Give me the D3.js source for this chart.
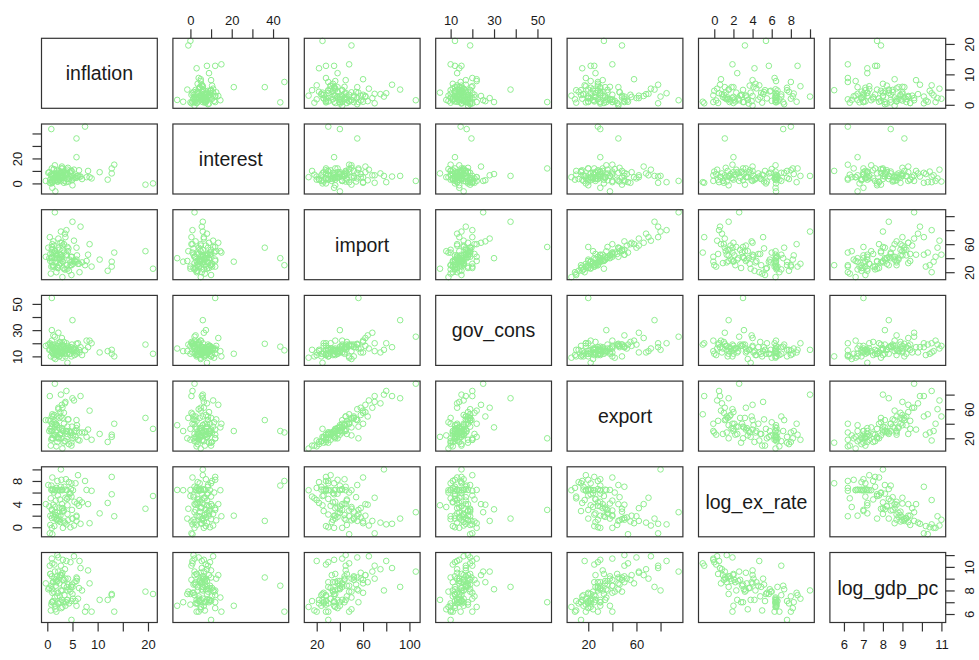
<!DOCTYPE html>
<html>
<head>
<meta charset="utf-8">
<script src="https://cdn.jsdelivr.net/npm/d3@7"></script>
<style>
  body { margin: 0; background: #fff; }
  text { font-family: "Liberation Sans", Arial, sans-serif; fill: #1a1a1a; }
</style>
</head>
<body>
<script>
// variables of the scatterplot matrix, one value per country
const varNames = ["inflation", "interest", "import", "gov_cons", "export", "log_ex_rate", "log_gdp_pc"];

const inflation = [21.0, 19.5, 7.5, 0.8, 5.8, 5.8, 1.5, 5.0, 0.9, 2.7, 1.0, 0.5, 2.0, 4.8, 1.6, 1.0, 3.0, 4.0, -0.3, 12.8,
  13.3, 12.8, 12.0, 8.1, 8.8, 8.4, 10.4,
  3.1, 0.9, 4.6, 2.2, 5.3, 1.4, 3.8, 6.4, 2.7, 0.6, 4.1, 1.9, 3.3, 5.8, 2.4, 1.1, 4.9, 3.0, 0.4, 2.9,
  6.9, 1.7, 3.6, 2.1, 4.4, 1.3, 5.1, 2.6, 0.8, 3.9, 7.8, 2.3, 1.5, 4.7, 3.4, 0.2, 5.6, 2.0, 3.7, 1.0,
  6.1, 2.8, 4.3, 1.6, 3.2, 5.0, 0.7, 2.5, 4.0, 1.2, 3.5, 6.6, 2.2, 1.8, 4.8, 3.0, 0.9, 2.6,
  2.4, 1.7, 3.9, 0.9, 4.6, 2.1, 3.3, 5.4, 1.4, 2.9, 6.3, 0.6, 3.6, 2.0, 4.2, 1.1, 3.0, 5.9, 2.6, 1.8];
const interest = [0.0, -1.0, 45.5, 43.5, 36.0, 21.0, 2.0, 6.0, 12.0, 6.0, 1.0, 0.5, 1.5, 10.0, -6.4, -3.5, 5.0, 8.0, 2.0, 8.0,
  15.0, 12.0, 3.0, 10.0, 4.0, 5.0, 9.0,
  6.5, 2.0, 9.5, 4.0, 11.0, 7.5, 1.0, 5.5, 8.5, 3.0, 12.5, 6.0, 0.5, 4.5, 10.0, 7.0, 2.5, 5.0, 9.0, 13.5,
  3.5, 8.0, 6.5, 1.5, 5.5, 11.5, 4.0, 7.0, 0.0, 9.5, 5.0, 3.0, 14.5, 6.0, 2.0, 8.5, 4.5, 10.5, 7.5, 1.0,
  6.0, 12.0, 3.5, 5.0, 9.0, -1.5, 7.0, 4.0, 11.0, 2.5, 8.0, 5.5, 6.5, 3.0, 10.0, 4.5, 7.5, 2.0,
  5.5, 7.0, 3.5, 6.0, 8.5, 2.5, 9.5, 4.5, 7.5, 5.0, 10.5, 3.0, 6.5, 8.0, 1.5, 4.0, 12.0, 6.0, 9.0, 5.5];
const imports = [25, 50, 30, 40, 55, 35, 105.5, 92, 56, 78, 48, 70, 45, 30, 40, 35, 13, 25, 42, 35,
  48, 28, 22, 45, 28, 60, 38,
  35, 42, 30, 55, 65, 28, 80, 20, 45, 36, 50, 44, 60, 38, 52, 30, 42, 58, 40, 62,
  34, 46, 70, 26, 38, 48, 32, 40, 28, 45, 36, 30, 50, 42, 24, 55, 35, 28, 44, 60,
  32, 38, 22, 50, 26, 36, 18, 46, 56, 64, 75, 85, 68, 20, 16, 52, 40, 33,
  38, 44, 30, 52, 34, 26, 48, 36, 58, 42, 32, 46, 24, 40, 54, 28, 36, 44, 62, 34];
const govCons = [12, 19, 14.6, 17.4, 19.6, 12, 25, 37.6, 54.5, 15, 19, 20, 18, 10, 16, 14, 9, 5.1, 18, 12,
  10, 15, 14, 17, 20, 22, 13,
  14, 22, 12, 19, 16, 11, 20, 13, 17, 15, 18, 12, 21, 14, 10, 16, 19, 13, 15, 24,
  11, 17, 14, 20, 12, 9, 16, 13, 18, 15, 22, 10, 14, 17, 12, 19, 15, 11, 16, 13,
  20, 12, 15, 8, 18, 14, 10, 21, 16, 26, 13, 17, 28, 11, 15, 19, 30, 16,
  14, 16, 12, 17, 15, 13, 18, 11, 16, 13, 15, 19, 10, 14, 17, 12, 16, 13, 18, 15];
const exports = [33, 48, 28, 30, 45, 30, 95, 75, 20, 80, 53, 78, 50, 14, 38, 30, 6, 22, 45, 22,
  40, 25, 15, 32, 18, 58, 26,
  30, 40, 28, 60, 72, 25, 85, 17, 50, 33, 46, 38, 55, 34, 48, 25, 36, 62, 30, 66,
  28, 40, 70, 20, 30, 42, 24, 25, 18, 30, 22, 20, 35, 28, 16, 45, 22, 15, 30, 40,
  18, 20, 12, 24, 14, 20, 10, 26, 36, 50, 68, 78, 62, 9, 10, 48, 35, 26,
  34, 40, 26, 50, 24, 22, 40, 30, 52, 34, 28, 44, 16, 36, 46, 20, 32, 38, 56, 28];
const logExRate = [5.4, 3.2, 8.0, 7.2, 1.1, 2.0, 2.6, 1.5, 3.0, 10.0, -1.2, -1.05, 1.3, 7.6, 6.45, 6.4, 6.4, 3.8, 4.0, 5.7,
  1.9, 8.7, 4.2, 4.0, 6.3, 0.7, 2.4,
  -0.1, -0.1, 0.0, 1.9, 0.3, 0.2, 0.5, 4.7, 7.0, 2.0, 1.2, 1.5, 1.0, 1.8, 1.4, 2.2, 3.0, 3.3, 3.6, 4.0,
  4.3, 4.6, 5.1, 5.5, 5.8, 6.0, 6.4, 6.4, 6.45, 6.4, 6.45, 6.4, 6.4, 6.6, 7.0, 7.3, 7.6, 8.0, 8.3, 8.6,
  9.0, 8.2, 7.8, 3.5, 2.8, 1.5, 5.0, 4.8, 2.3, 3.9, 0.8, 0.6, 1.1, 6.8, 5.3, 2.7, 3.1, 0.9,
  3.4, 2.1, 4.9, 1.6, 5.9, 6.5, 2.9, 4.4, 1.7, 6.5, 3.7, 0.4, 6.5, 2.5, 5.2, 6.6, 3.3, 4.1, 2.0, 1.3];
const logGdpPc = [7.7, 7.9, 6.2, 8.4, 9.1, 6.7, 9.6, 8.3, 7.0, 8.0, 10.3, 10.1, 11.0, 5.5, 6.7, 7.0, 6.6, 7.2, 8.6, 7.7,
  6.2, 7.6, 7.2, 9.7, 6.2, 8.6, 7.2,
  10.6, 10.7, 10.4, 10.8, 10.9, 10.2, 10.5, 10.5, 10.1, 9.4, 9.0, 9.2, 8.9, 8.8, 9.1, 8.7, 8.5, 9.5, 8.2, 9.3,
  8.0, 8.4, 9.0, 7.8, 8.1, 7.9, 7.3, 7.0, 6.8, 7.2, 6.6, 6.9, 7.4, 8.3, 7.6, 8.1, 7.1, 7.5, 7.0, 7.8,
  7.3, 6.5, 6.9, 6.4, 7.0, 7.7, 6.3, 7.5, 8.0, 8.7, 9.8, 9.9, 9.6, 6.2, 7.1, 8.9, 8.1, 9.3,
  8.6, 8.9, 8.3, 9.2, 7.9, 6.9, 8.4, 8.7, 9.0, 7.2, 8.2, 9.4, 6.7, 8.8, 8.5, 7.1, 8.0, 9.0, 9.3, 8.7];

const columns = [inflation, interest, imports, govCons, exports, logExRate, logGdpPc];

// tick marks and the labels R kept on each side
const tickValues = [[0, 5, 10, 15, 20], [0, 10, 20, 30, 40], [20, 40, 60, 80, 100], [10, 20, 30, 40, 50],
  [20, 40, 60, 80], [0, 2, 4, 6, 8, 10], [6, 7, 8, 9, 10, 11]];
const xTickLabels = [[0, 5, 10, 20], [0, 20, 40], [20, 60, 100], [10, 30, 50], [20, 60], [0, 2, 4, 6, 8], [6, 7, 8, 9, 11]];
const yTickLabels = [[0, 10, 20], [0, 20], [20, 60], [10, 30, 50], [20, 60], [0, 4, 8], [6, 8, 10]];

var svgWidth = 979, svgHeight = 660;
var n = varNames.length;
var panelLeft = 41.5, panelTop = 38.3;
var stepX = 131.4, stepY = 85.7;
var panelW = 115.8, panelH = 70;
var tickLen = 9;

var svg = d3.select("body").append("svg")
  .attr("width", svgWidth)
  .attr("height", svgHeight);

// R pads every range by 4% on each side
var domains = columns.map(col => {
  var ext = d3.extent(col);
  var pad = (ext[1] - ext[0]) * 0.04;
  return [ext[0] - pad, ext[1] + pad];
});

for (var i = 0; i < n; i++) {
  for (var j = 0; j < n; j++) {
    var x0 = panelLeft + j * stepX;
    var y0 = panelTop + i * stepY;
    var g = svg.append("g");

    var xScale = d3.scaleLinear().domain(domains[j]).range([x0, x0 + panelW]);
    var yScale = d3.scaleLinear().domain(domains[i]).range([y0 + panelH, y0]);

    if (i === j) {
      g.append("text")
        .attr("x", x0 + panelW / 2)
        .attr("y", y0 + panelH / 2)
        .attr("text-anchor", "middle")
        .attr("dominant-baseline", "central")
        .style("font-size", "19.5px")
        .text(varNames[i]);
    } else {
      var xs = columns[j], ys = columns[i];
      g.selectAll("circle")
        .data(d3.range(xs.length))
        .enter()
        .append("circle")
        .attr("cx", k => xScale(xs[k]))
        .attr("cy", k => yScale(ys[k]))
        .attr("r", 2.8)
        .attr("fill", "none")
        .attr("stroke", "#90ee90")
        .attr("stroke-width", 1);
    }

    g.append("rect")
      .attr("x", x0).attr("y", y0)
      .attr("width", panelW).attr("height", panelH)
      .attr("fill", "none")
      .attr("stroke", "#333")
      .attr("stroke-width", 1.2);

    // axes follow the alternating pattern of pairs()
    if (i === 0 && j % 2 === 1) {
      var ax = d3.axisTop(xScale).tickValues(tickValues[j]).tickSize(tickLen).tickPadding(4)
        .tickFormat(d => xTickLabels[j].includes(d) ? d : "");
      styleAxis(svg.append("g").attr("transform", `translate(0,${y0})`).call(ax));
    }
    if (i === n - 1 && j % 2 === 0) {
      var ax = d3.axisBottom(xScale).tickValues(tickValues[j]).tickSize(tickLen).tickPadding(8)
        .tickFormat(d => xTickLabels[j].includes(d) ? d : "");
      styleAxis(svg.append("g").attr("transform", `translate(0,${y0 + panelH})`).call(ax));
    }
    if (j === 0 && i % 2 === 1) {
      var ax = d3.axisLeft(yScale).tickValues(tickValues[i]).tickSize(tickLen)
        .tickFormat(d => yTickLabels[i].includes(d) ? d : "");
      var ag = svg.append("g").attr("transform", `translate(${x0},0)`).call(ax);
      styleAxis(ag);
      rotateLabels(ag, -24);
    }
    if (j === n - 1 && i % 2 === 0) {
      var ax = d3.axisRight(yScale).tickValues(tickValues[i]).tickSize(tickLen)
        .tickFormat(d => yTickLabels[i].includes(d) ? d : "");
      var ag = svg.append("g").attr("transform", `translate(${x0 + panelW},0)`).call(ax);
      styleAxis(ag);
      rotateLabels(ag, 24);
    }
  }
}

function styleAxis(sel) {
  sel.select(".domain").remove();
  sel.selectAll(".tick line").attr("stroke", "#333").attr("stroke-width", 1.2);
  sel.selectAll(".tick text")
    .style("font-size", "13px")
    .style("font-family", "\"Liberation Sans\", Arial, sans-serif")
    .attr("fill", "#1a1a1a");
}

// side labels run parallel to the axis, as with las = 0
function rotateLabels(sel, dx) {
  sel.selectAll(".tick text")
    .attr("x", null).attr("dy", null)
    .attr("text-anchor", "middle")
    .attr("dominant-baseline", "central")
    .attr("transform", `translate(${dx},0) rotate(-90)`);
}
</script>
</body>
</html>
